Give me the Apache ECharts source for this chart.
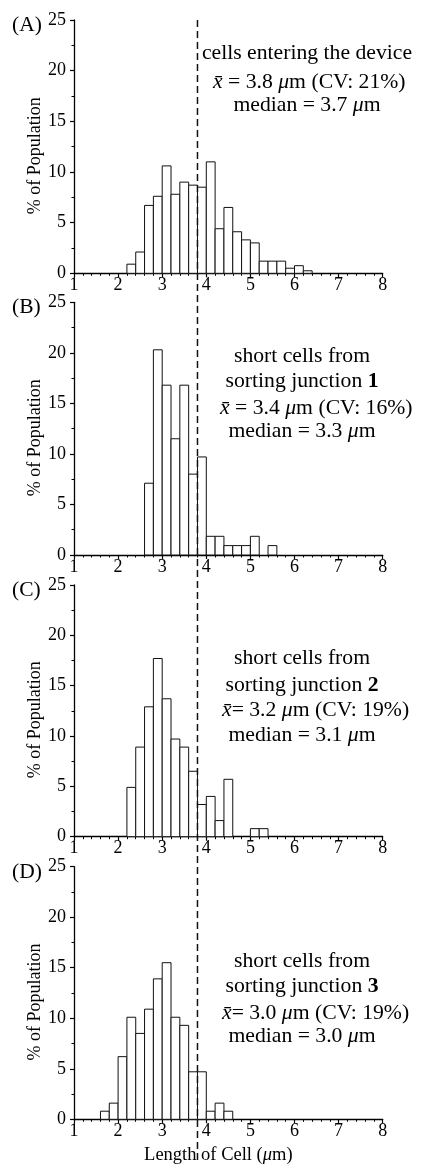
<!DOCTYPE html>
<html>
<head>
<meta charset="utf-8">
<script src="https://cdn.jsdelivr.net/npm/echarts@6/dist/echarts.min.js"></script>
<style>
html,body{margin:0;padding:0;background:#fff;}
#chart{width:421px;height:1165px;}
</style>
</head>
<body>
<div id="chart"></div>
<script>
// ---- data ----
var binWidth = 0.2;
var binsA = [2.2,2.4,2.6,2.8,3.0,3.2,3.4,3.6,3.8,4.0,4.2,4.4,4.6,4.8,5.0,5.2,5.4,5.6,5.8,6.0,6.2];
var valuesA = [0.9,2.1,6.7,7.6,10.6,7.8,9.0,8.7,8.5,11.0,4.4,6.5,4.1,3.3,3.0,1.2,1.2,1.2,0.5,0.75,0.25];
var binsB = [2.6,2.8,3.0,3.2,3.4,3.6,3.8,4.0,4.2,4.4,4.6,4.8,5.0,5.2,5.4];
var valuesB = [7.1,20.3,16.8,11.5,16.8,8.0,9.7,1.85,1.85,0.93,0.93,0.93,1.85,0,0.93];
var binsC = [2.2,2.4,2.6,2.8,3.0,3.2,3.4,3.6,3.8,4.0,4.2,4.4,4.6,4.8,5.0,5.2];
var valuesC = [4.9,8.9,12.9,17.7,13.7,9.7,8.9,6.5,3.2,4.0,1.6,5.7,0,0,0.8,0.8];
var binsD = [1.6,1.8,2.0,2.2,2.4,2.6,2.8,3.0,3.2,3.4,3.6,3.8,4.0,4.2,4.4];
var valuesD = [0.8,1.6,6.2,10.1,8.5,10.9,13.9,15.5,10.1,9.3,4.7,4.7,0.8,1.6,0.8];
var cutoff = 3.8;
var panelLabels = ['(A)','(B)','(C)','(D)'];
var xTicks = [1,2,3,4,5,6,7,8];
var yTicks = [0,5,10,15,20,25];

var FONT = 'Liberation Serif, Times New Roman, serif';
var bins = [binsA,binsB,binsC,binsD];
var vals = [valuesA,valuesB,valuesC,valuesD];

var grids = [
  {left:74, right:38.3, top:20, height:253.3, outerBoundsMode:'none', containLabel:false},
  {left:74, right:38.3, top:302.3, height:252.7, outerBoundsMode:'none', containLabel:false},
  {left:74, right:38.3, top:585, height:251.7, outerBoundsMode:'none', containLabel:false},
  {left:74, right:38.3, top:866.7, height:252.6, outerBoundsMode:'none', containLabel:false}
];

var xAxes = [], yAxes = [], series = [];
for (var i = 0; i < 4; i++) {
  var xa = {
    type:'value', gridIndex:i, min:xTicks[0], max:xTicks[xTicks.length-1], interval:1,
    axisLine:{show:true, lineStyle:{color:'#000', width:1.3}},
    axisTick:{show:true, inside:false, length:4, lineStyle:{color:'#000', width:1.2}},
    minorTick:{show:true, splitNumber:5, length:2.5, lineStyle:{color:'#000', width:1}},
    splitLine:{show:false},
    axisLabel:{fontFamily:FONT, fontSize:18, color:'#000', margin:3}
  };
  if (i === 3) {
    xa.name = 'Length of Cell ({i|\u03bc}m)';
    xa.nameLocation = 'middle';
    xa.nameGap = 26;
    xa.nameMoveOverlap = false;
    xa.nameTextStyle = {fontFamily:FONT, fontSize:18.5, color:'#000', padding:[0,20,0,0],
      rich:{i:{fontFamily:FONT, fontSize:18.5, fontStyle:'italic', color:'#000'}}};
  }
  xAxes.push(xa);
  yAxes.push({
    type:'value', gridIndex:i, min:yTicks[0], max:yTicks[yTicks.length-1], interval:5,
    axisLine:{show:true, lineStyle:{color:'#000', width:1.3}},
    axisTick:{show:true, inside:false, length:4, lineStyle:{color:'#000', width:1.2}},
    minorTick:{show:true, splitNumber:2, length:2.5, lineStyle:{color:'#000', width:1}},
    splitLine:{show:false},
    axisLabel:{fontFamily:FONT, fontSize:18, color:'#000', margin:8},
    name:'% of Population', nameLocation:'middle', nameRotate:90, nameGap:30,
    nameMoveOverlap:false,
    nameTextStyle:{fontFamily:FONT, fontSize:18, color:'#000', padding:[0,18,0,0]}
  });
  var data = [];
  for (var k = 0; k < bins[i].length; k++) data.push([bins[i][k], vals[i][k]]);
  series.push({
    type:'custom', xAxisIndex:i, yAxisIndex:i, data:data, silent:true,
    renderItem:function(params, api){
      var x0 = api.value(0), y = api.value(1);
      if (!y) return null;
      var p0 = api.coord([x0, 0]);
      var p1 = api.coord([x0 + binWidth, y]);
      return {type:'rect',
        shape:{x:p0[0], y:p1[1], width:p1[0]-p0[0], height:p0[1]-p1[1]},
        style:{fill:'#fff', stroke:'#111', lineWidth:1}};
    }
  });
}

var FS = 21.7;
var richBase = {
  n:{fontFamily:FONT, fontSize:FS, color:'#000'},
  i:{fontFamily:FONT, fontSize:FS, color:'#000', fontStyle:'italic'},
  b:{fontFamily:FONT, fontSize:FS, color:'#000', fontWeight:'bold'}
};
function txt(id, str, x, y, align){
  return {type:'text', id:id, x:x, y:y, silent:true,
    style:{text:str, rich:richBase, fontFamily:FONT, fontSize:FS, fill:'#000',
      textAlign:align, textVerticalAlign:'middle'}};
}
var graphics = [];
var labelY = [25, 307.5, 590, 872];
for (var j = 0; j < 4; j++) {
  graphics.push({type:'text', id:'pl'+j, left:12, top:labelY[j]-11, silent:true,
    style:{text:panelLabels[j], fontFamily:FONT, fontSize:21.5, fill:'#000'}});
}
var XB = '{i|x\u0304}';
graphics.push(txt('a1','{n|cells entering the device}',307,53,'center'));
graphics.push(txt('a2',XB+'{n| = 3.8 }{i|\u03bc}{n|m (CV: 21%)}',213,82,'left'));
graphics.push(txt('a3','{n|median = 3.7 }{i|\u03bc}{n|m}',307,105,'center'));

graphics.push(txt('b1','{n|short cells from}',302,356.7,'center'));
graphics.push(txt('b2','{n|sorting junction }{b|1}',302,381.7,'center'));
graphics.push(txt('b3',XB+'{n| = 3.4 }{i|\u03bc}{n|m (CV: 16%)}',220,408.3,'left'));
graphics.push(txt('b4','{n|median = 3.3 }{i|\u03bc}{n|m}',302,431.7,'center'));

graphics.push(txt('c1','{n|short cells from}',302,658.3,'center'));
graphics.push(txt('c2','{n|sorting junction }{b|2}',302,685,'center'));
graphics.push(txt('c3',XB+'{n|= 3.2 }{i|\u03bc}{n|m (CV: 19%)}',222,710,'left'));
graphics.push(txt('c4','{n|median = 3.1 }{i|\u03bc}{n|m}',302,735,'center'));

graphics.push(txt('d1','{n|short cells from}',302,961.7,'center'));
graphics.push(txt('d2','{n|sorting junction }{b|3}',302,986.7,'center'));
graphics.push(txt('d3',XB+'{n|= 3.0 }{i|\u03bc}{n|m (CV: 19%)}',222,1013.3,'left'));
graphics.push(txt('d4','{n|median = 3.0 }{i|\u03bc}{n|m}',302,1036.7,'center'));

var chart = echarts.init(document.getElementById('chart'), null, {renderer:'canvas'});
chart.setOption({
  animation:false,
  backgroundColor:'#fff',
  grid:grids, xAxis:xAxes, yAxis:yAxes, series:series, graphic:graphics
});
var lx = chart.convertToPixel({xAxisIndex:0}, cutoff);
var ltop = chart.convertToPixel({yAxisIndex:0}, yTicks[yTicks.length-1]);
var lbot = chart.convertToPixel({yAxisIndex:3}, 0) + 44;
chart.setOption({graphic:[{type:'line', id:'cutoff', silent:true, z:100,
  shape:{x1:lx, y1:ltop, x2:lx, y2:lbot},
  style:{stroke:'#111', lineWidth:1.5, lineDash:[7,4]}}]});
</script>
</body>
</html>
